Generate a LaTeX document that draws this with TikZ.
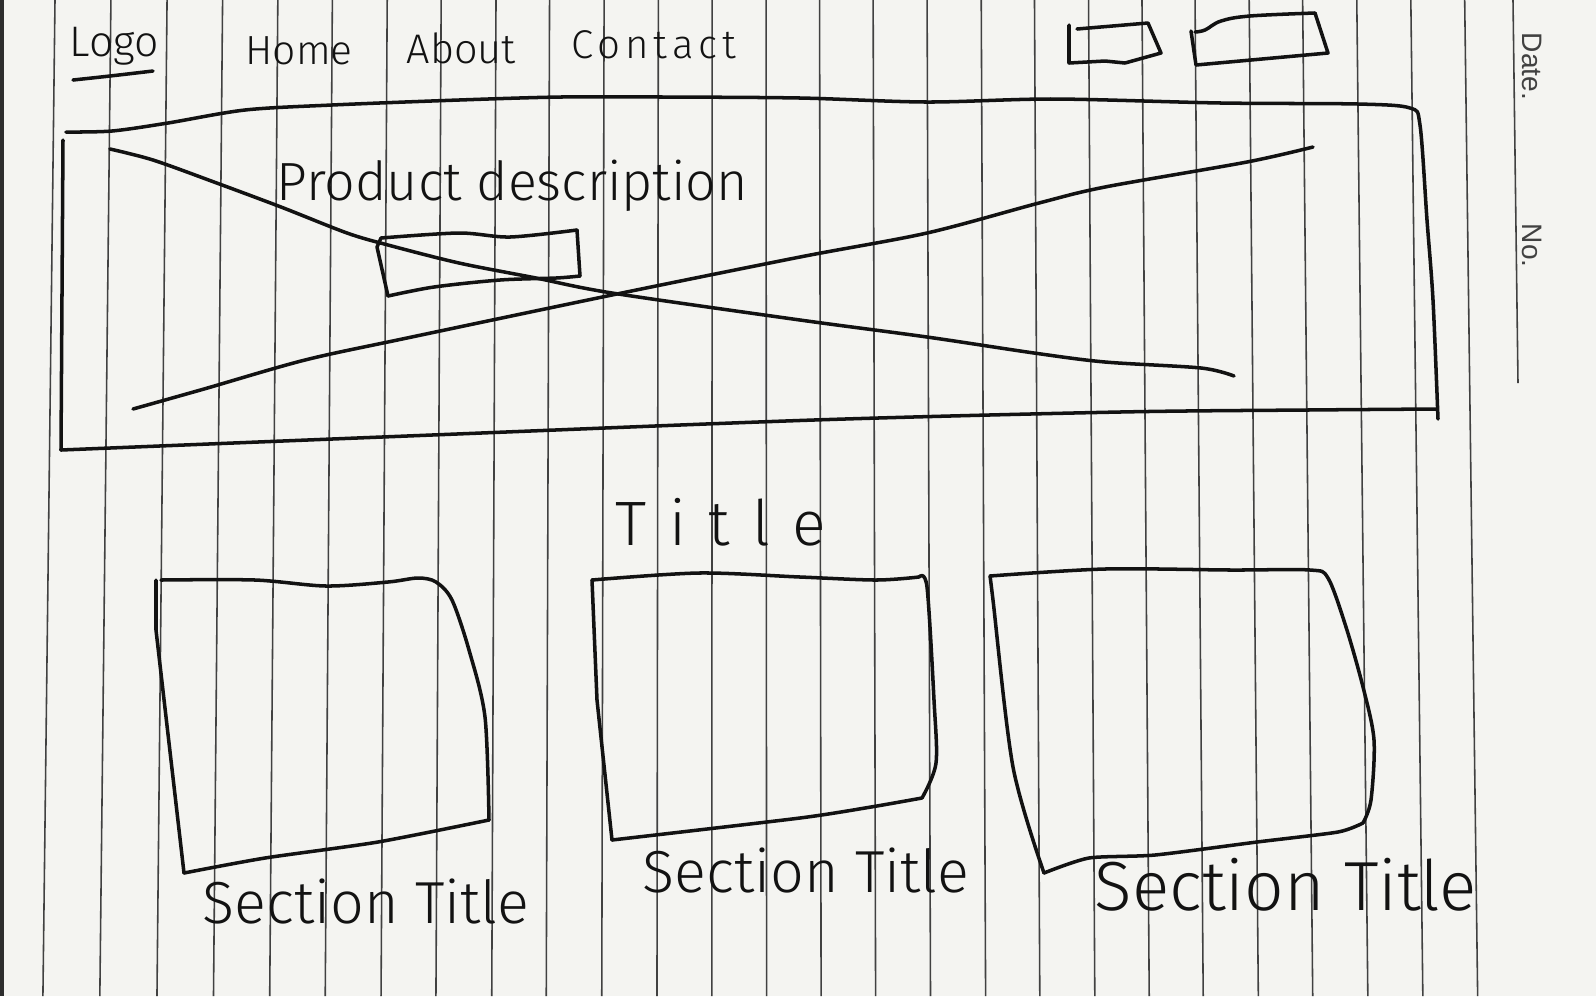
\documentclass[tikz,border=0pt]{standalone}
\usepackage{fontspec}
\setmainfont{Liberation Sans}
\IfFontExistsTF{Fira Sans Light}{\newfontfamily\hand{Fira Sans Light}}{%
  \IfFontExistsTF{Lato Light}{\newfontfamily\hand{Lato Light}}{\newfontfamily\hand{Liberation Sans}}}
\definecolor{paper}{RGB}{244,244,241}
\definecolor{rulecol}{RGB}{65,65,65}
\definecolor{inkcol}{RGB}{18,18,18}
\definecolor{edgecol}{RGB}{45,45,45}
\newcommand\hw[3]{\resizebox{#1}{!}{\fontsize{20pt}{20pt}\hand\addfontfeatures{LetterSpace=#2}#3}}
\begin{document}
\begin{tikzpicture}[x=0.01cm,y=-0.01cm,
  ruled/.style={draw=rulecol,line width=0.45pt},
  pen/.style={draw=inkcol,line width=1pt,line cap=round,line join=round},
  hwn/.style={inner sep=0pt,anchor=base west,text=inkcol},
  stamp/.style={inner sep=0pt,anchor=base west,rotate=-90,text=rulecol,font=\fontsize{8pt}{8pt}\selectfont}]
\useasboundingbox (0,0) rectangle (1596,996);
\fill[paper] (0,0) rectangle (1596,996);
\fill[edgecol] (0,0) rectangle (4,996);
% ruled paper lines (slight perspective fan)
\foreach \p in {49.3,105.7,162.3,218.3,274,329,384.3,438.7,494,548,603,657.7,712,766.3,820.3,874.3,928.7,983.3,1037,1091.5,1145.4,1198.9,1253.5,1307.4,1362,1416.5,1470.8}{
  \pgfmathsetmacro\xt{\p-(\p-735)*0.00832}
  \pgfmathsetmacro\xb{\p+(\p-735)*0.00931}
  \draw[ruled] (\xt,0) -- (\xb,996);
}
\draw[ruled] (1513,0) -- (1518,383);
\node[stamp] (date) at (1522,32) {Date.};
\node[stamp] (no) at (1522,223) {No.};
% navigation
\node[hwn] (logo) at (69,56) {\hw{0.89cm}{0}{Logo}};
\draw[pen] plot[smooth,tension=0.6] coordinates {(73,80) (110,76) (153,71)};
\node[hwn] (home) at (245,64) {\hw{1.07cm}{0}{Home}};
\node[hwn] (about) at (406,63) {\hw{1.09cm}{0}{About}};
\node[hwn] (contact) at (571,58) {\hw{1.64cm}{12}{Contact}};
% buttons top right
\draw[pen] (1077,29) -- (1148,23) -- (1161,53) -- (1125,63) -- (1105,61) -- (1069,63) -- (1069,25);
\draw[pen] (1191,31) -- (1196,65) -- (1328,53) -- (1315,13);
\draw[pen] plot[smooth,tension=0.6] coordinates {(1315,13) (1250,16) (1221,21) (1205,30) (1195,32)};
% hero banner
\draw[pen] plot[smooth,tension=0.5] coordinates {(66,132) (112,131) (168,123) (245,110) (332,105) (459,100) (561,97) (663,97) (800,98) (927,102) (1054,99) (1221,103) (1358,104) (1410,108) (1420,125) (1427,220) (1433,300) (1438,419)};
\draw[pen] plot[smooth,tension=0.5] coordinates {(1436,409) (1307,410) (1120,412) (814,420) (407,436) (61,450)};
\draw[pen] (63,140) -- (61,450);
\draw[pen] plot[smooth,tension=0.5] coordinates {(110,149) (153,160) (214,182) (281,207) (347,233) (388,245) (459,263) (536,278) (612,293) (800,320) (927,337) (1034,353) (1105,362) (1201,368) (1234,376)};
\draw[pen] plot[smooth,tension=0.5] coordinates {(133,409) (204,389) (305,360) (407,338) (612,295) (800,257) (927,233) (1039,203) (1105,187) (1247,162) (1313,147)};
\node[hwn] (desc) at (276,200) {\hw{4.71cm}{0}{Product description}};
% small button in banner
\draw[pen] plot[smooth,tension=0.5] coordinates {(381,238) (459,233) (510,237) (577,230)};
\draw[pen] (577,230) -- (580,276);
\draw[pen] plot[smooth,tension=0.5] coordinates {(580,276) (556,278) (500,280) (434,287) (388,296)};
\draw[pen] (388,296) -- (377,247) -- (381,238);
% title
\node[hwn] (title) at (615,545) {\hw{2.10cm}{36}{Title}};
% section boxes
\draw[pen] plot[smooth,tension=0.5] coordinates {(161,580) (255,580) (326,586) (388,582) (418,578) (436,582) (452,600) (469,650) (485,717) (489,820)};
\draw[pen] plot[smooth,tension=0.4] coordinates {(489,820) (378,842) (265,858) (184,873)};
\draw[pen] (184,873) -- (156,630) -- (156,580);
\draw[pen] plot[smooth,tension=0.5] coordinates {(592,580) (699,573) (800,577) (876,580) (919,577)};
\draw[pen] plot[smooth,tension=0.5] coordinates {(919,577) (927,587) (934,700) (936,763) (922,798)};
\draw[pen] plot[smooth,tension=0.4] coordinates {(922,798) (871,807) (800,818) (612,840)};
\draw[pen] (612,840) -- (597,700) -- (592,580);
\draw[pen] plot[smooth,tension=0.5] coordinates {(990,576) (1105,569) (1231,570) (1310,570) (1328,578) (1346,627) (1363,687) (1374,740) (1371,800) (1363,823)};
\draw[pen] plot[smooth,tension=0.4] coordinates {(1363,823) (1338,832) (1257,842) (1155,855) (1089,858) (1044,873)};
\draw[pen] plot[smooth,tension=0.5] coordinates {(1044,873) (1013,767) (993,600) (990,576)};
\node[hwn] (st1) at (202,923) {\hw{3.26cm}{0}{Section Title}};
\node[hwn] (st2) at (642,892) {\hw{3.26cm}{0}{Section Title}};
\node[hwn] (st3) at (1094,910) {\hw{3.82cm}{0}{Section Title}};
\end{tikzpicture}
\end{document}
